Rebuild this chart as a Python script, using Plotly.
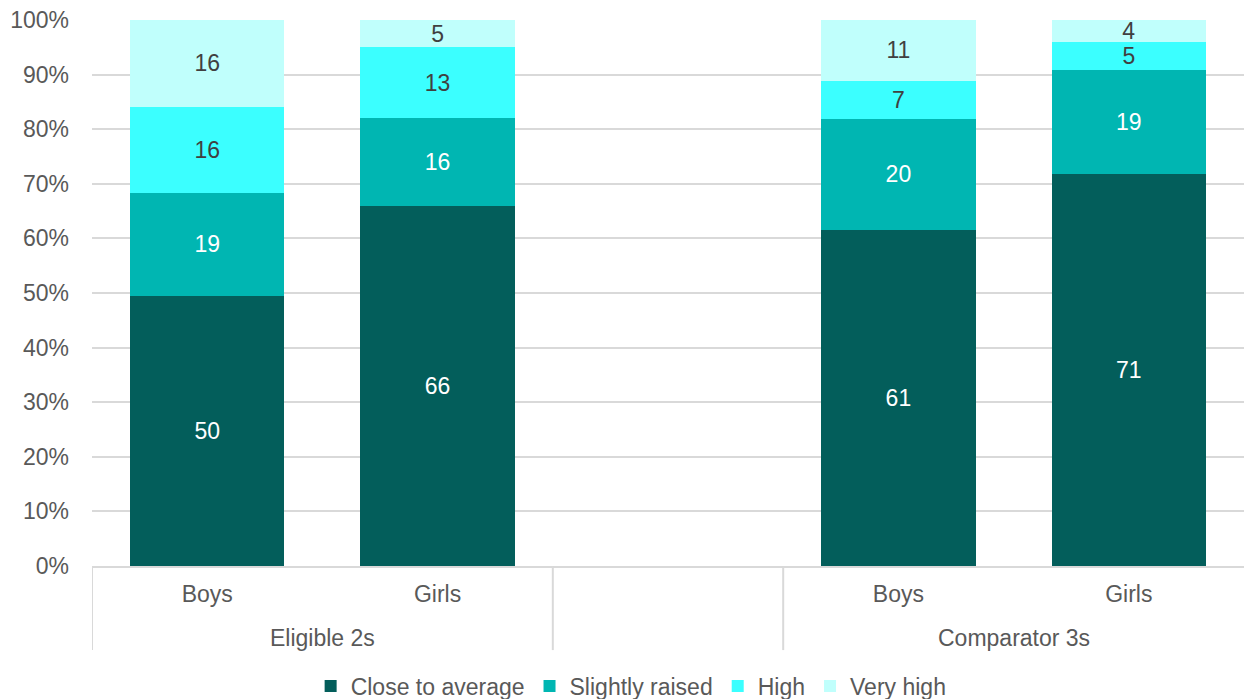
import plotly.graph_objects as go

# Stacked shares by group (values as labelled in the chart, normalised to 100%)
slots = [0, 1, 3, 4]          # slot 2 is left empty as a gap between the groups
sexes = ["Boys", "Girls", "Boys", "Girls"]
groups = ["Eligible 2s", "Comparator 3s"]
group_pos = [0.5, 3.5]

close_to_average = [50, 66, 61, 71]
slightly_raised = [19, 16, 20, 19]
high = [16, 13, 7, 5]
very_high = [16, 5, 11, 4]

series = [
    ("Close to average", close_to_average, "#035E5B", "white"),
    ("Slightly raised", slightly_raised, "#00B6B2", "white"),
    ("High", high, "#3BFFFF", "#404040"),
    ("Very high", very_high, "#C0FFFC", "#404040"),
]

FONT = "Liberation Sans, Arial, sans-serif"
GREY = "#595959"
LINE = "#D9D9D9"

fig = go.Figure()
for name, vals, colour, txt in series:
    fig.add_trace(go.Bar(
        x=slots, y=vals, name=name,
        marker=dict(color=colour, line=dict(width=0)),
        width=0.67,
        text=vals, textposition="inside", insidetextanchor="middle",
        textangle=0, constraintext="none",
        textfont=dict(color=txt, size=23, family=FONT),
        hoverinfo="skip",
    ))

# group labels under the sex labels
for g, p in zip(groups, group_pos):
    fig.add_annotation(x=p, y=-0.131, xref="x", yref="paper", text=g,
                       showarrow=False, yanchor="middle",
                       font=dict(size=23, color=GREY, family=FONT))

# category divider lines
for d in [-0.5, 1.5, 2.5]:
    fig.add_shape(type="line", xref="x", yref="paper", x0=d, x1=d, y0=0, y1=-0.154,
                  line=dict(color=LINE, width=2))

fig.update_layout(
    barmode="stack", barnorm="percent",
    width=1244, height=699,
    margin=dict(l=92, r=0, t=20, b=133, autoexpand=False),
    plot_bgcolor="white", paper_bgcolor="white",
    font=dict(family=FONT, size=23, color=GREY),
    showlegend=True,
    legend=dict(orientation="h", xref="paper", x=0.468, xanchor="center",
                yref="paper", y=-0.22, yanchor="middle",
                font=dict(size=23, color=GREY), traceorder="normal",
                itemclick=False),
    xaxis=dict(range=[-0.5, 4.5], tickvals=slots, ticktext=sexes,
               showgrid=False, zeroline=False, showline=True, linecolor=LINE,
               linewidth=2, ticks="", ticklabelstandoff=6,
               tickfont=dict(size=23, color=GREY)),
    yaxis=dict(range=[0, 100], dtick=10, ticksuffix="%", showgrid=True,
               gridcolor=LINE, gridwidth=2, zeroline=False, showline=False,
               ticks="", ticklabelstandoff=22,
               tickfont=dict(size=23, color=GREY)),
)

fig.write_html("out.html", config={"displayModeBar": False},
               post_script="document.body.style.margin='0';")
